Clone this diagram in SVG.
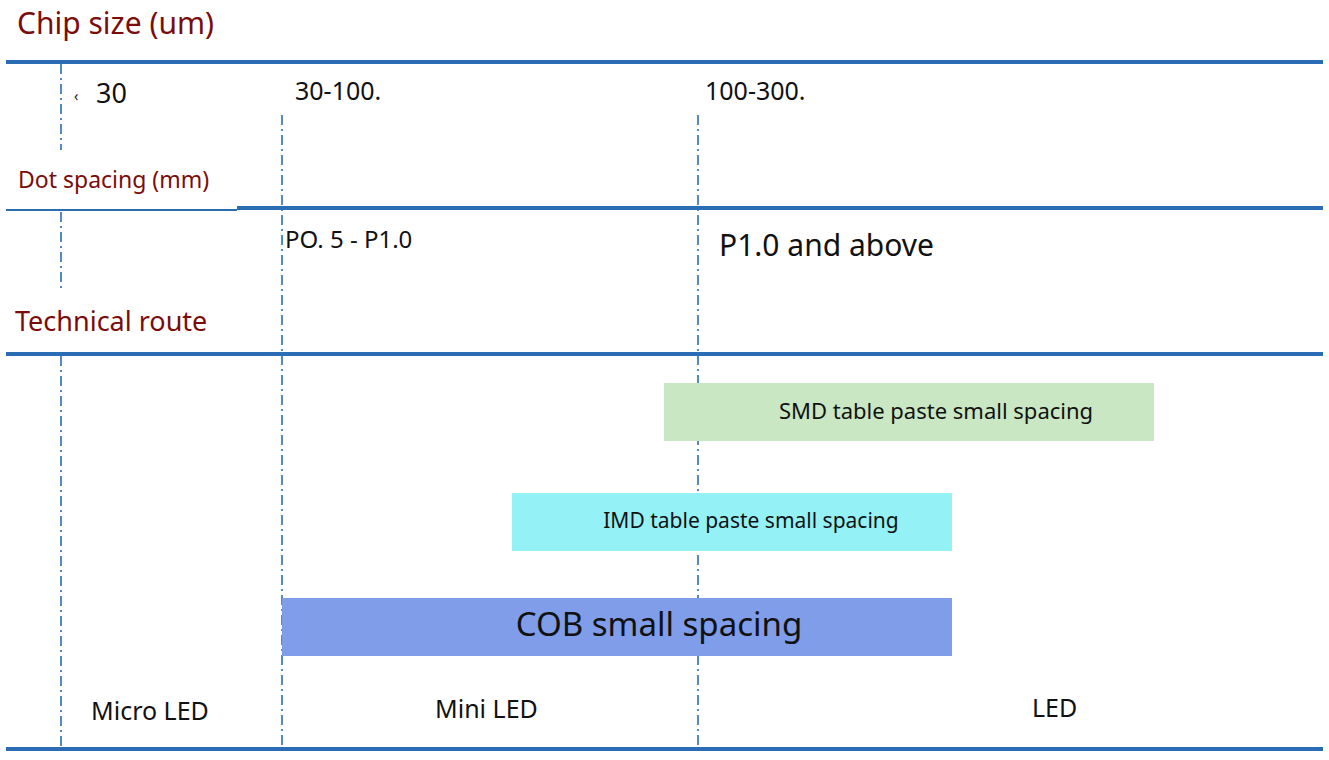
<svg xmlns="http://www.w3.org/2000/svg" width="1329" height="760" viewBox="0 0 1329 760">
<style>
.h{stroke:#2a6db5;stroke-width:4}
.v{stroke:#2a6db5;stroke-width:1.6;stroke-dasharray:10 4 2 4;fill:none}
text{font-family:"Noto Sans","Liberation Sans",sans-serif;fill:#111}
.r{fill:#7a0c0c}
</style>
<rect width="1329" height="760" fill="#fff"/>
<g id="connectors">
<line class="h" x1="6" y1="62" x2="1323" y2="62"/>
<line x1="6" y1="210" x2="237" y2="210" stroke="#2a6db5" stroke-width="2"/>
<line class="h" x1="237" y1="208" x2="1323" y2="208"/>
<line class="h" x1="6" y1="354" x2="1323" y2="354"/>
<line class="h" x1="6" y1="749" x2="1323" y2="749"/>
<line class="v" x1="61" y1="64" x2="61" y2="150"/>
<line class="v" x1="61" y1="212" x2="61" y2="290"/>
<line class="v" x1="61" y1="356" x2="61" y2="747"/>
<line class="v" x1="282" y1="115" x2="282" y2="747"/>
<line class="v" x1="698" y1="115" x2="698" y2="747"/>
</g>
<g id="labels">
<text class="r" x="17" y="34" font-size="30">Chip size (um)</text>
<text x="74" y="101" font-size="14">‹</text>
<text x="96" y="103" font-size="27">30</text>
<text x="295" y="100" font-size="25">30-100.</text>
<text x="705" y="100" font-size="25">100-300.</text>
<text class="r" x="18" y="188" font-size="23">Dot spacing (mm)</text>
<text x="285" y="248" font-size="24">PO. 5 - P1.0</text>
<text x="719" y="256" font-size="30">P1.0 and above</text>
<text class="r" x="15" y="331" font-size="27">Technical route</text>
<text x="91" y="720" font-size="25">Micro LED</text>
<text x="435" y="718" font-size="25">Mini LED</text>
<text x="1032" y="717" font-size="25">LED</text>
</g>
<g id="smd"><rect x="664" y="383" width="490" height="58" fill="#c9e7c2"/><text x="936" y="419" font-size="22" text-anchor="middle">SMD table paste small spacing</text></g>
<g id="imd"><rect x="512" y="493" width="440" height="58" fill="#94f2f7"/><text x="751" y="528" font-size="21" text-anchor="middle">IMD table paste small spacing</text></g>
<g id="cob"><rect x="282" y="598" width="670" height="58" fill="#7f9de9"/><text x="659" y="636" font-size="33" text-anchor="middle">COB small spacing</text></g>
</svg>
